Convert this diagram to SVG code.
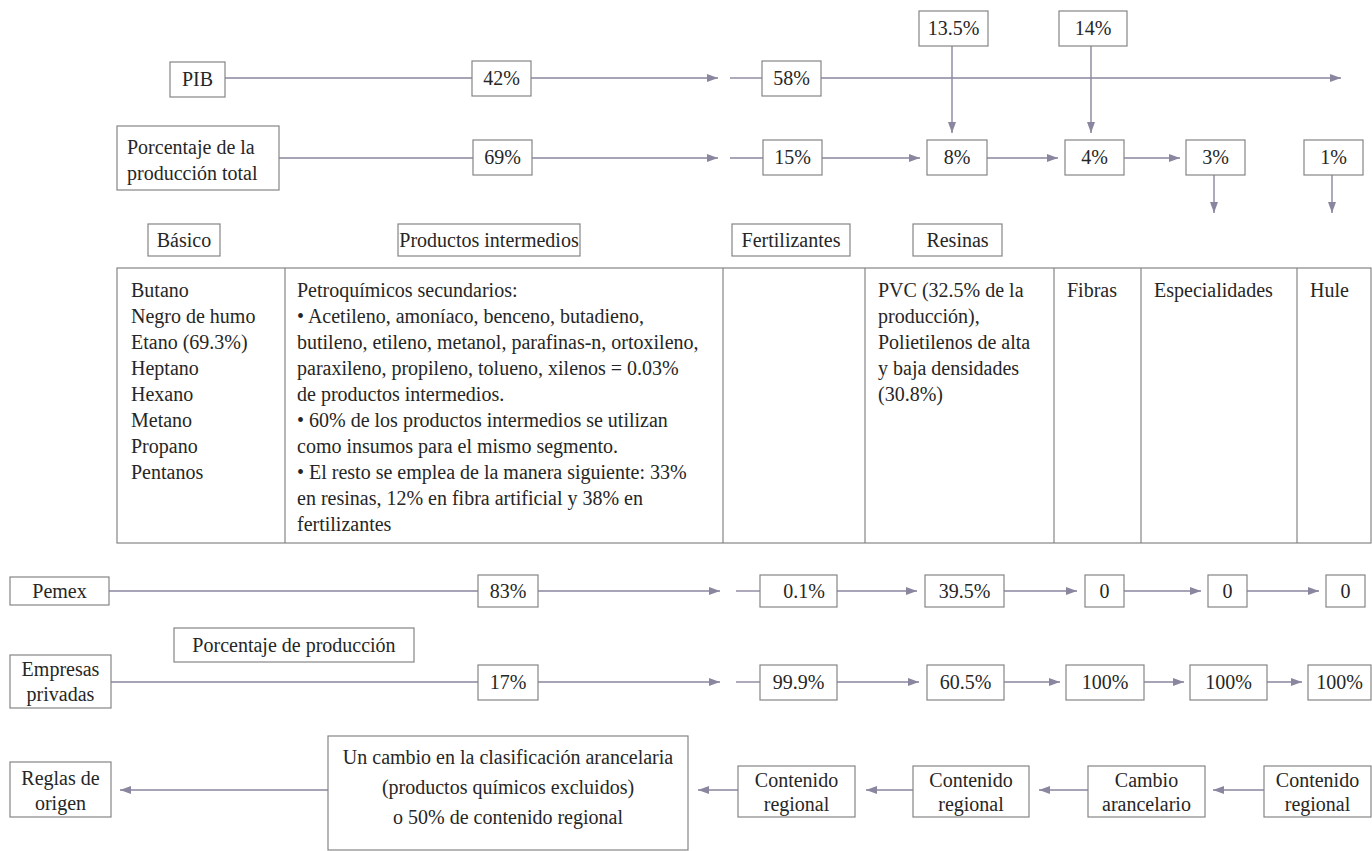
<svg xmlns="http://www.w3.org/2000/svg" width="1372" height="851" viewBox="0 0 1372 851">
<defs>
<marker id="ah" markerUnits="userSpaceOnUse" markerWidth="11" markerHeight="8" refX="11" refY="4" orient="auto"><path d="M0,0 L11,4 L0,8 z" fill="#8b86a0"/></marker>
<style>
.b{fill:#fff;stroke:#858585;stroke-width:1.2}
.t{font-family:"Liberation Serif","Times New Roman",serif;font-size:20px;fill:#262626}
.m{text-anchor:middle}
.c line{stroke:#8b86a0;stroke-width:1.4;fill:none}
.c .a{marker-end:url(#ah)}
.g{stroke:#858585;stroke-width:1.2;fill:none}
</style>
</defs>
<rect width="1372" height="851" fill="#fff"/>
<g id="connectors" class="c">
<line x1="225" y1="78" x2="472" y2="78"/>
<line class="a" x1="531" y1="78" x2="718" y2="78"/>
<line x1="730" y1="78" x2="762" y2="78"/>
<line class="a" x1="821" y1="78" x2="1341" y2="78"/>
<line x1="279" y1="158" x2="473" y2="158"/>
<line class="a" x1="532" y1="158" x2="718" y2="158"/>
<line x1="730" y1="158" x2="763" y2="158"/>
<line class="a" x1="822" y1="158" x2="920" y2="158"/>
<line class="a" x1="987" y1="158" x2="1058" y2="158"/>
<line class="a" x1="1124" y1="158" x2="1180" y2="158"/>
<line class="a" x1="952" y1="46" x2="952" y2="133"/>
<line class="a" x1="1091" y1="46" x2="1091" y2="133"/>
<line class="a" x1="1214" y1="175" x2="1214" y2="213"/>
<line class="a" x1="1332" y1="175" x2="1332" y2="213"/>
<line x1="109" y1="591" x2="478" y2="591"/>
<line class="a" x1="538" y1="591" x2="720" y2="591"/>
<line x1="736" y1="591" x2="760" y2="591"/>
<line class="a" x1="837" y1="591" x2="917" y2="591"/>
<line class="a" x1="1004" y1="591" x2="1077" y2="591"/>
<line class="a" x1="1124" y1="591" x2="1201" y2="591"/>
<line class="a" x1="1247" y1="591" x2="1319" y2="591"/>
<line x1="111" y1="682" x2="478" y2="682"/>
<line class="a" x1="538" y1="682" x2="720" y2="682"/>
<line x1="736" y1="682" x2="760" y2="682"/>
<line class="a" x1="837" y1="682" x2="919" y2="682"/>
<line class="a" x1="1004" y1="682" x2="1060" y2="682"/>
<line class="a" x1="1144" y1="682" x2="1184" y2="682"/>
<line class="a" x1="1267" y1="682" x2="1302" y2="682"/>
<line class="a" x1="328" y1="790" x2="120" y2="790"/>
<line class="a" x1="738" y1="790" x2="698" y2="790"/>
<line class="a" x1="913" y1="790" x2="866" y2="790"/>
<line class="a" x1="1088" y1="790" x2="1039" y2="790"/>
<line class="a" x1="1264" y1="790" x2="1213" y2="790"/>
</g>
<g id="n135"><rect class="b" x="919" y="11" width="69" height="35"/><text class="t m" x="953.5" y="35">13.5%</text></g>
<g id="n14"><rect class="b" x="1059" y="11" width="68" height="35"/><text class="t m" x="1093" y="35">14%</text></g>
<g id="pib"><rect class="b" x="170" y="62" width="55" height="35"/><text class="t m" x="197.5" y="86">PIB</text></g>
<g id="p42"><rect class="b" x="472" y="61" width="59" height="35"/><text class="t m" x="501.5" y="85">42%</text></g>
<g id="p58"><rect class="b" x="762" y="61" width="59" height="35"/><text class="t m" x="791.5" y="85">58%</text></g>
<g id="ptotal"><rect class="b" x="117" y="126" width="162" height="64"/><text class="t" x="127" y="154">Porcentaje de la</text><text class="t" x="127" y="180">producción total</text></g>
<g id="p69"><rect class="b" x="473" y="140" width="59" height="35"/><text class="t m" x="502.5" y="164">69%</text></g>
<g id="p15"><rect class="b" x="763" y="140" width="59" height="35"/><text class="t m" x="792.5" y="164">15%</text></g>
<g id="p8"><rect class="b" x="927" y="140" width="60" height="35"/><text class="t m" x="957" y="164">8%</text></g>
<g id="p4"><rect class="b" x="1065" y="140" width="59" height="35"/><text class="t m" x="1094.5" y="164">4%</text></g>
<g id="p3"><rect class="b" x="1186" y="140" width="59" height="35"/><text class="t m" x="1215.5" y="164">3%</text></g>
<g id="p1"><rect class="b" x="1304" y="140" width="59" height="35"/><text class="t m" x="1333.5" y="164">1%</text></g>
<g id="hbasico"><rect class="b" x="148" y="224" width="72" height="32"/><text class="t m" x="184" y="247">Básico</text></g>
<g id="hprod"><rect class="b" x="398" y="224" width="182" height="32"/><text class="t m" x="489" y="247">Productos intermedios</text></g>
<g id="hfert"><rect class="b" x="732" y="224" width="118" height="32"/><text class="t m" x="791" y="247">Fertilizantes</text></g>
<g id="hres"><rect class="b" x="913" y="224" width="89" height="32"/><text class="t m" x="957.5" y="247">Resinas</text></g>
<g id="tabla">
<rect class="g" x="117" y="268" width="1254" height="275"/>
<line class="g" x1="285" y1="268" x2="285" y2="543"/>
<line class="g" x1="723" y1="268" x2="723" y2="543"/>
<line class="g" x1="865" y1="268" x2="865" y2="543"/>
<line class="g" x1="1054" y1="268" x2="1054" y2="543"/>
<line class="g" x1="1141" y1="268" x2="1141" y2="543"/>
<line class="g" x1="1297" y1="268" x2="1297" y2="543"/>
<text class="t" x="131" y="297">Butano</text>
<text class="t" x="131" y="323">Negro de humo</text>
<text class="t" x="131" y="349">Etano (69.3%)</text>
<text class="t" x="131" y="375">Heptano</text>
<text class="t" x="131" y="401">Hexano</text>
<text class="t" x="131" y="427">Metano</text>
<text class="t" x="131" y="453">Propano</text>
<text class="t" x="131" y="479">Pentanos</text>
<text class="t" x="297" y="297">Petroquímicos secundarios:</text>
<text class="t" x="297" y="323">• Acetileno, amoníaco, benceno, butadieno,</text>
<text class="t" x="297" y="349">butileno, etileno, metanol, parafinas-n, ortoxileno,</text>
<text class="t" x="297" y="375">paraxileno, propileno, tolueno, xilenos = 0.03%</text>
<text class="t" x="297" y="401">de productos intermedios.</text>
<text class="t" x="297" y="427">• 60% de los productos intermedios se utilizan</text>
<text class="t" x="297" y="453">como insumos para el mismo segmento.</text>
<text class="t" x="297" y="479">• El resto se emplea de la manera siguiente: 33%</text>
<text class="t" x="297" y="505">en resinas, 12% en fibra artificial y 38% en</text>
<text class="t" x="297" y="531">fertilizantes</text>
<text class="t" x="878" y="297">PVC (32.5% de la</text>
<text class="t" x="878" y="323">producción),</text>
<text class="t" x="878" y="349">Polietilenos de alta</text>
<text class="t" x="878" y="375">y baja densidades</text>
<text class="t" x="878" y="401">(30.8%)</text>
<text class="t" x="1067" y="297">Fibras</text>
<text class="t" x="1154" y="297">Especialidades</text>
<text class="t" x="1310" y="297">Hule</text>
</g>
<g id="pemex"><rect class="b" x="10" y="577" width="99" height="28"/><text class="t m" x="59.5" y="598">Pemex</text></g>
<g id="m83"><rect class="b" x="478" y="575" width="60" height="32"/><text class="t m" x="508" y="598">83%</text></g>
<g id="m01"><rect class="b" x="760" y="575" width="77" height="32"/><text class="t m" x="804" y="598">0.1%</text></g>
<g id="m395"><rect class="b" x="925" y="575" width="79" height="32"/><text class="t m" x="964.5" y="598">39.5%</text></g>
<g id="m0a"><rect class="b" x="1085" y="575" width="39" height="32"/><text class="t m" x="1104.5" y="598">0</text></g>
<g id="m0b"><rect class="b" x="1208" y="575" width="39" height="32"/><text class="t m" x="1227.5" y="598">0</text></g>
<g id="m0c"><rect class="b" x="1326" y="575" width="39" height="32"/><text class="t m" x="1345.5" y="598">0</text></g>
<g id="pprod"><rect class="b" x="174" y="628" width="240" height="34"/><text class="t m" x="294" y="652">Porcentaje de producción</text></g>
<g id="empresas"><rect class="b" x="10" y="655" width="101" height="53"/><text class="t m" x="60.5" y="676">Empresas</text><text class="t m" x="60.5" y="701">privadas</text></g>
<g id="e17"><rect class="b" x="478" y="665" width="60" height="35"/><text class="t m" x="508" y="689">17%</text></g>
<g id="e999"><rect class="b" x="760" y="665" width="77" height="35"/><text class="t m" x="798.5" y="689">99.9%</text></g>
<g id="e605"><rect class="b" x="927" y="665" width="77" height="35"/><text class="t m" x="965.5" y="689">60.5%</text></g>
<g id="e100a"><rect class="b" x="1066" y="665" width="78" height="35"/><text class="t m" x="1105" y="689">100%</text></g>
<g id="e100b"><rect class="b" x="1190" y="665" width="77" height="35"/><text class="t m" x="1228.5" y="689">100%</text></g>
<g id="e100c"><rect class="b" x="1308" y="665" width="63" height="35"/><text class="t m" x="1339.5" y="689">100%</text></g>
<g id="reglas"><rect class="b" x="10" y="762" width="101" height="55"/><text class="t m" x="60.5" y="785">Reglas de</text><text class="t m" x="60.5" y="810">origen</text></g>
<g id="uncambio"><rect class="b" x="328" y="736" width="360" height="114"/><text class="t m" x="508" y="764">Un cambio en la clasificación arancelaria</text><text class="t m" x="508" y="794">(productos químicos excluidos)</text><text class="t m" x="508" y="824">o 50% de contenido regional</text></g>
<g id="cr1"><rect class="b" x="738" y="766" width="117" height="51"/><text class="t m" x="796.5" y="787">Contenido</text><text class="t m" x="796.5" y="811">regional</text></g>
<g id="cr2"><rect class="b" x="913" y="766" width="116" height="51"/><text class="t m" x="971" y="787">Contenido</text><text class="t m" x="971" y="811">regional</text></g>
<g id="ca"><rect class="b" x="1088" y="766" width="117" height="51"/><text class="t m" x="1146.5" y="787">Cambio</text><text class="t m" x="1146.5" y="811">arancelario</text></g>
<g id="cr3"><rect class="b" x="1264" y="766" width="107" height="51"/><text class="t m" x="1317.5" y="787">Contenido</text><text class="t m" x="1317.5" y="811">regional</text></g>
</svg>
